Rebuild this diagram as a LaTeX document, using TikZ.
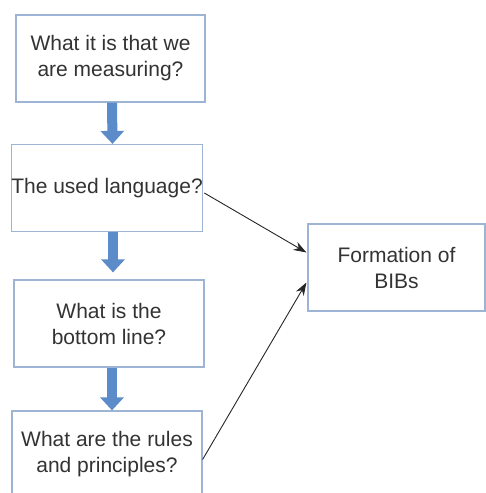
\documentclass[tikz,border=0pt]{standalone}
\usepackage{fontspec}
\setmainfont{Liberation Sans}
\usetikzlibrary{arrows.meta}
\definecolor{boxline}{HTML}{9DB4D4}
\definecolor{txt}{HTML}{333333}
\definecolor{fat}{HTML}{5B8BC8}
\tikzset{
  box/.style={draw=boxline, line width=1.2pt, fill=white, minimum height=87pt,
    inner sep=0pt, align=center, text=txt, font=\fontsize{21}{26}\selectfont},
  fatarrow/.style={draw=fat, line width=10pt, -{Triangle[length=13pt,width=23pt,fill=fat]}},
  link/.style={draw=black!85, line width=0.9pt, -{Stealth[length=13pt,width=9pt]}}
}
\begin{document}
\begin{tikzpicture}[x=1pt,y=-1pt]
\useasboundingbox (0,0) rectangle (486,493);
\clip (0,0) rectangle (486,493);
\node[box, minimum width=189pt] (b1) at (110.5,58.5) {What it is that we\\are measuring?};
\node[box, minimum width=190pt] (b2) at (107,188) {The used language?};
\node[box, minimum width=190pt] (b3) at (109,323.5) {What is the\\bottom line?};
\node[box, minimum width=190pt] (b4) at (107,454.5) {What are the rules\\and principles?};
\node[box, minimum width=177pt] (bib) at (396.5,267.5) {Formation of\\BIBs};
\draw[fatarrow] ([xshift=1.5pt]b1.south) -- ([xshift=5.5pt]b2.north);
\draw[fatarrow] ([xshift=6pt]b2.south) -- ([xshift=4pt,yshift=7pt]b3.north);
\draw[fatarrow] ([xshift=3pt]b3.south) -- ([xshift=5pt]b4.north);
\draw[link] ([shift={(1pt,-5pt)}]b2.east) -- ([shift={(-1pt,15pt)}]bib.west);
\draw[link] ([shift={(0pt,-5pt)}]b4.east) -- ([shift={(-1pt,-15pt)}]bib.west);
\end{tikzpicture}
\end{document}
